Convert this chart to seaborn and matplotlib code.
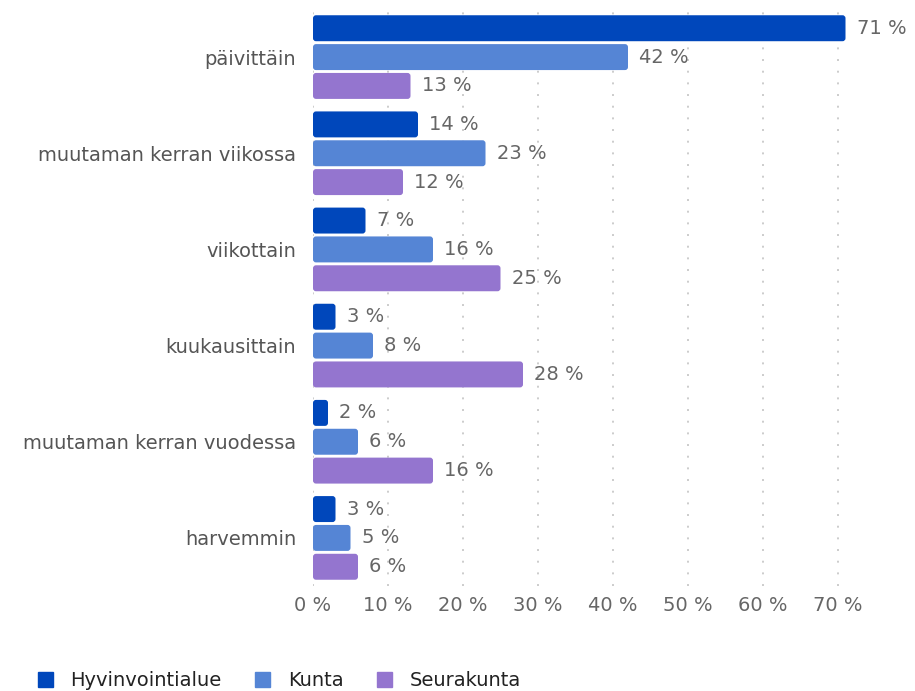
import matplotlib
matplotlib.use("Agg")
import matplotlib.pyplot as plt
import seaborn as sns
import pandas as pd
from matplotlib.patches import Patch, FancyBboxPatch

categories = ["päivittäin", "muutaman kerran viikossa", "viikottain", "kuukausittain",
              "muutaman kerran vuodessa", "harvemmin"]
series = ["Hyvinvointialue", "Kunta", "Seurakunta"]
hyvinvointialue = [71, 14, 7, 3, 2, 3]
kunta = [42, 23, 16, 8, 6, 5]
seurakunta = [13, 12, 25, 28, 16, 6]
x_ticks = [0, 10, 20, 30, 40, 50, 60, 70]
colors = ["#0047BB", "#5585D5", "#9475CF"]

rows = []
for s, vals in zip(series, [hyvinvointialue, kunta, seurakunta]):
    for c, v in zip(categories, vals):
        rows.append({"cat": c, "series": s, "value": v})
df = pd.DataFrame(rows)

sns.set_theme(style="white")
plt.rcParams["font.family"] = ["DejaVu Sans"]

FS = 14
fig = plt.figure(figsize=(9.15, 6.91), dpi=100)
ax_w_px, ax_h_px = 853 - 313, 586 - 9
ax = fig.add_axes([313/915, 1 - 586/691, ax_w_px/915, ax_h_px/691])

sns.barplot(data=df, y="cat", x="value", hue="series", order=categories,
            hue_order=series, palette=colors, width=0.9, gap=0.1,
            orient="h", ax=ax, legend=False, saturation=1)

XMAX = 72
ax.set_xlim(0, XMAX)
ylim = ax.get_ylim()

# round the bar corners
xu = XMAX / ax_w_px
yu = abs(ylim[1] - ylim[0]) / ax_h_px
for patch in list(ax.patches):
    x0, y0 = patch.get_x(), patch.get_y()
    w, h = patch.get_width(), patch.get_height()
    fb = FancyBboxPatch((x0, y0), w, h,
                        boxstyle=f"round,pad=0,rounding_size={3*xu}",
                        mutation_aspect=yu/xu,
                        facecolor=patch.get_facecolor(), edgecolor="none", zorder=2)
    ax.add_patch(fb)
    patch.set_visible(False)

for cont in ax.containers:
    ax.bar_label(cont, labels=[f"{int(v)} %" for v in cont.datavalues],
                 padding=8, color="#666666", fontsize=FS)

ax.set_ylim(ylim)
ax.set_xticks(x_ticks)
ax.set_xticklabels([f"{t} %" for t in x_ticks], color="#666666", fontsize=FS)
ax.tick_params(axis="y", labelsize=FS, labelcolor="#555555", length=0, pad=12)
ax.tick_params(axis="x", length=0, pad=7)
ax.set_xlabel("")
ax.set_ylabel("")
ax.grid(axis="x", color="#cccccc", linestyle=(0, (1, 5)), linewidth=1.4)
ax.set_axisbelow(True)
for sp in ax.spines.values():
    sp.set_visible(False)

handles = [Patch(facecolor=c, edgecolor=c, label=s) for c, s in zip(colors, series)]
fig.legend(handles=handles, loc="lower left", bbox_to_anchor=(20/915, -0.024),
           ncol=3, frameon=False, fontsize=FS, handlelength=0.8, handleheight=0.8,
           columnspacing=1.7, handletextpad=0.9, labelcolor="#222222")

fig.savefig("out.png", dpi=100)
